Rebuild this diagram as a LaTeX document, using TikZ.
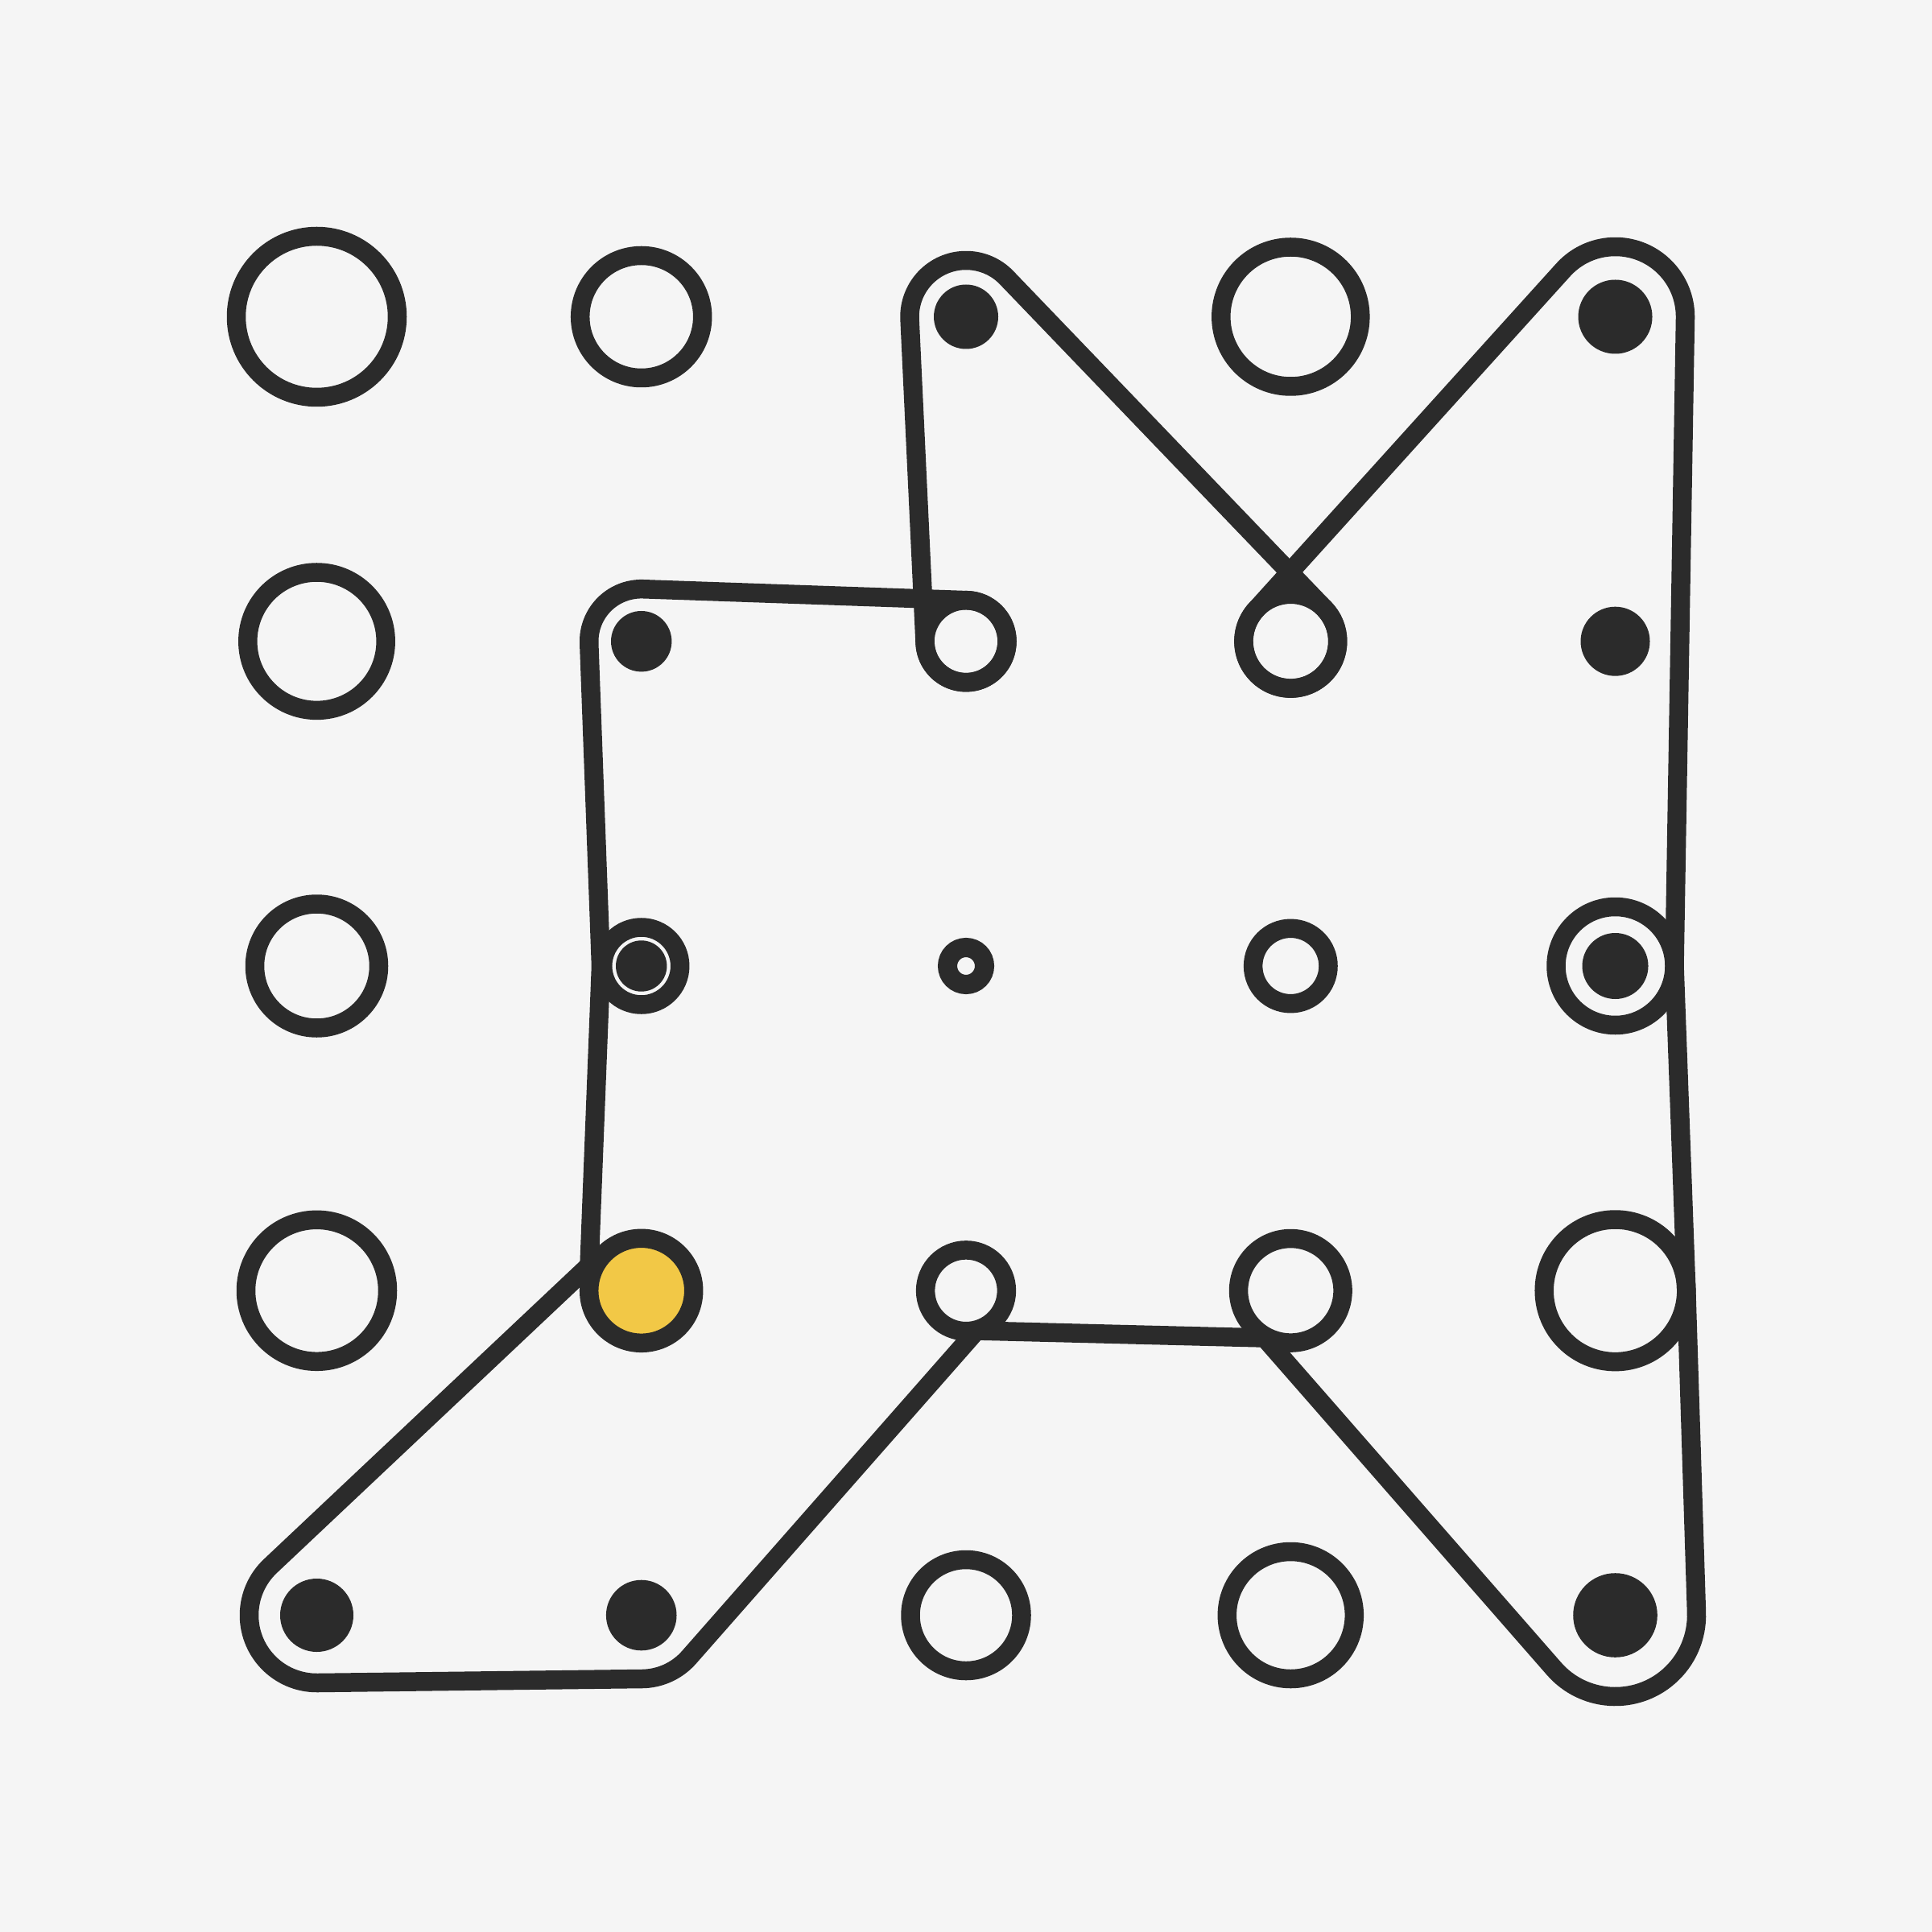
\documentclass[tikz,border=0pt]{standalone}
\usepackage{tikz}
\definecolor{ink}{HTML}{2B2B2B}
\definecolor{bg}{HTML}{F5F5F5}
\definecolor{sun}{HTML}{F2C846}

% tangent segment between two pegs (x,y,signed radius)
\newcommand\beltseg[7]{%
  \pgfmathsetmacro\bdx{(#5)-(#2)}%
  \pgfmathsetmacro\bdy{(#6)-(#3)}%
  \pgfmathsetmacro\bD{sqrt((\bdx)*(\bdx)+(\bdy)*(\bdy))}%
  \pgfmathsetmacro\bux{(\bdx)/(\bD)}%
  \pgfmathsetmacro\buy{(\bdy)/(\bD)}%
  \pgfmathsetmacro\ba{((#4)-(#7))/(\bD)}%
  \pgfmathsetmacro\bb{sqrt(1-(\ba)*(\ba))}%
  \pgfmathsetmacro\bnx{(\ba)*(\bux)-(\bb)*(\buy)}%
  \pgfmathsetmacro\bny{(\ba)*(\buy)+(\bb)*(\bux)}%
  \pgfmathsetmacro\bang{atan2(\bny,\bnx)}%
  \expandafter\xdef\csname ang#1\endcsname{\bang}%
  \coordinate (#1-s) at ({(#2)+(#4)*(\bnx)},{(#3)+(#4)*(\bny)});%
  \coordinate (#1-e) at ({(#5)+(#7)*(\bnx)},{(#6)+(#7)*(\bny)});%
}
\newcommand\pegarc[3]{%
  \pgfmathsetmacro\pa{#2}%
  \pgfmathsetmacro\pb{#3}%
  \pgfmathsetmacro\pc{ifthenelse(\pb>\pa,\pb-360,\pb)}%
  \expandafter\xdef\csname st#1\endcsname{\pa}%
  \expandafter\xdef\csname en#1\endcsname{\pc}%
}

\begin{document}
\begin{tikzpicture}[x=1cm,y=-1cm,
  ring/.style={draw=ink, line width=0.235cm},
  belt/.style={draw=ink, line width=0.235cm, line join=round}]
\def\ca{3.935}\def\cb{7.967}\def\cc{12}\def\cd{16.033}\def\ce{20.065}
\fill[bg] (0,0) rectangle (24,24);

% segments of the closed string
\beltseg{A}{12}{7.967}{0.51}{7.967}{7.967}{0.65}
\beltseg{B}{7.967}{7.967}{0.65}{7.465}{12}{0}
\beltseg{C}{7.465}{12}{0}{7.32}{15.72}{0}
\beltseg{D}{7.32}{15.72}{0}{3.935}{20.065}{0.84}
\beltseg{E}{3.935}{20.065}{0.84}{7.967}{20.065}{0.79}
\beltseg{F}{7.967}{20.065}{0.79}{12.13}{16.53}{0}
\beltseg{G}{12.13}{16.53}{0}{15.71}{16.62}{0}
\beltseg{H}{15.71}{16.62}{0}{20.065}{20.065}{1.01}
\beltseg{I}{20.065}{20.065}{1.01}{20.948}{16.033}{0}
\beltseg{J}{20.948}{16.033}{0}{20.80}{12}{0}
\beltseg{K}{20.80}{12}{0}{20.065}{3.935}{0.87}
\beltseg{L}{20.065}{3.935}{0.87}{16.033}{7.967}{0.584}
\beltseg{M}{16.033}{7.967}{0.584}{12}{3.935}{0.70}
\beltseg{N}{12}{3.935}{0.70}{12}{7.967}{0.51}

\pegarc{Pa}{\angA}{\angB}
\pegarc{Pd}{\angD}{\angE}
\pegarc{Pe}{\angE}{\angF}
\pegarc{Ph}{\angH}{\angI}
\pegarc{Pk}{\angK}{\angL}
\pegarc{Pl}{\angL}{\angM}
\pegarc{Pm}{\angM}{\angN}
\pegarc{Pn}{\angN}{\angA}

\draw[belt] (A-s) -- (A-e) arc[start angle=\stPa, end angle=\enPa, radius=0.65]
  -- (B-e) -- (C-e) -- (D-e) arc[start angle=\stPd, end angle=\enPd, radius=0.84]
  -- (E-e) arc[start angle=\stPe, end angle=\enPe, radius=0.79]
  -- (F-e) -- (G-e) -- (H-e) arc[start angle=\stPh, end angle=\enPh, radius=1.01]
  -- (I-e) -- (J-e) -- (K-e) arc[start angle=\stPk, end angle=\enPk, radius=0.87]
  -- (L-e) arc[start angle=\stPl, end angle=\enPl, radius=0.584]
  -- (M-e) arc[start angle=\stPm, end angle=\enPm, radius=0.70]
  -- (N-e) arc[start angle=\stPn, end angle=\enPn, radius=0.51] -- cycle;

% row 1
\draw[ring] (\ca,\ca) circle[radius=1.00];
\draw[ring] (\cb,\ca) circle[radius=0.76];
\fill[ink] (\cc,\ca) circle[radius=0.40];
\draw[ring] (\cd,\ca) circle[radius=0.865];
\fill[ink] (\ce,\ca) circle[radius=0.46];
% row 2
\draw[ring] (\ca,\cb) circle[radius=0.857];
\fill[ink] (\cb,\cb) circle[radius=0.377];
\draw[ring] (\cc,\cb) circle[radius=0.51];
\draw[ring] (\cd,\cb) circle[radius=0.584];
\fill[ink] (\ce,\cb) circle[radius=0.43];
% row 3
\draw[ring] (\ca,\cc) circle[radius=0.77];
\draw[ring] (\cb,\cc) circle[radius=0.48];
\fill[ink] (\cb,\cc) circle[radius=0.317];
\draw[ring, line width=0.24cm] (\cc,\cc) circle[radius=0.23];
\draw[ring] (\cd,\cc) circle[radius=0.467];
\draw[ring] (\ce,\cc) circle[radius=0.735];
\fill[ink] (\ce,\cc) circle[radius=0.41];
% row 4
\draw[ring] (\ca,\cd) circle[radius=0.88];
\draw[ring, fill=sun] (\cb,\cd) circle[radius=0.65];
\draw[ring] (\cc,\cd) circle[radius=0.504];
\draw[ring] (\cd,\cd) circle[radius=0.6475];
\draw[ring] (\ce,\cd) circle[radius=0.883];
% row 5
\fill[ink] (\ca,\ce) circle[radius=0.455];
\fill[ink] (\cb,\ce) circle[radius=0.438];
\draw[ring] (\cc,\ce) circle[radius=0.69];
\draw[ring] (\cd,\ce) circle[radius=0.79];
\fill[ink] (\ce,\ce) circle[radius=0.523];
\end{tikzpicture}
\end{document}
